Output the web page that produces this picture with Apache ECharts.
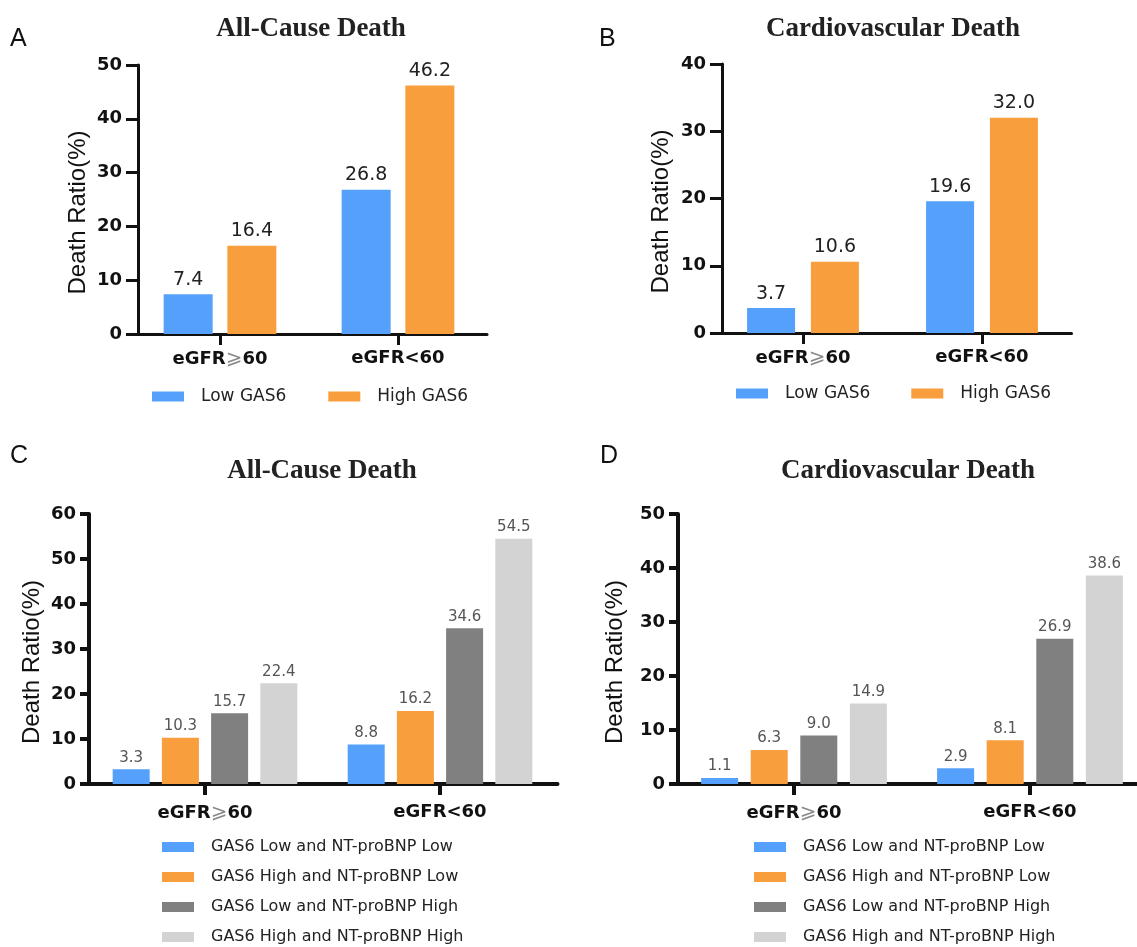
<!DOCTYPE html>
<html>
<head>
<meta charset="utf-8">
<script src="https://cdn.jsdelivr.net/npm/echarts@6/dist/echarts.min.js"></script>
<style>
  html, body { margin: 0; padding: 0; background: #fff; }
  #chart { width: 1137px; height: 947px; }
</style>
</head>
<body>
<div id="chart"></div>
<script>
// categories and legend names
var categories = ['eGFR⩾60', 'eGFR<60'];
var gasNames = ['Low GAS6', 'High GAS6'];
var comboNames = [
  'GAS6 Low and NT-proBNP Low',
  'GAS6 High and NT-proBNP Low',
  'GAS6 Low and NT-proBNP High',
  'GAS6 High and NT-proBNP High'
];

// A: all-cause death by GAS6
var allCauseLowGas6 = [7.4, 26.8];
var allCauseHighGas6 = [16.4, 46.2];
// B: cardiovascular death by GAS6
var cardioLowGas6 = [3.7, 19.6];
var cardioHighGas6 = [10.6, 32.0];
// C: all-cause death by GAS6 + NT-proBNP
var allCauseLowLow = [3.3, 8.8];
var allCauseHighLow = [10.3, 16.2];
var allCauseLowHigh = [15.7, 34.6];
var allCauseHighHigh = [22.4, 54.5];
// D: cardiovascular death by GAS6 + NT-proBNP
var cardioLowLow = [1.1, 2.9];
var cardioHighLow = [6.3, 8.1];
var cardioLowHigh = [9.0, 26.9];
var cardioHighHigh = [14.9, 38.6];

// y axis maxima
var yMax = [50, 40, 60, 50];

var BLUE = '#54a0fa';
var ORANGE = '#f99e3d';
var DARK = '#808080';
var LIGHT = '#d3d3d3';

var chart = echarts.init(document.getElementById('chart'));

var grids = [
  { left: 131, top: 65, width: 356, height: 269 },
  { left: 713.5, top: 64, width: 358, height: 269 },
  { left: 87.5, top: 514, width: 470, height: 270 },
  { left: 676, top: 514, width: 472, height: 270 }
];
var yOffsets = [-7, -8.5, -1.5, -2];
var nameGaps = [48, 49, 45, 51];
var axisW = [3, 3, 4, 4];

function xAxisFor(i) {
  return {
    type: 'category',
    gridIndex: i,
    data: categories,
    axisLine: { lineStyle: { color: '#111', width: axisW[i] } },
    axisTick: { show: true, interval: 0, alignWithLabel: true, length: 11, lineStyle: { color: '#111', width: axisW[i] } },
    axisLabel: {
      interval: 0,
      color: '#111',
      fontFamily: 'DejaVu Sans',
      fontWeight: 'bold',
      fontSize: 18,
      margin: i < 2 ? 15 : 19,
      formatter: function (v) { return v.replace('⩾', '{g|⩾}'); },
      rich: { g: { color: '#888', fontWeight: 'normal', fontFamily: 'DejaVu Sans', fontSize: 20 } }
    }
  };
}

function yAxisFor(i) {
  return {
    type: 'value',
    gridIndex: i,
    min: 0,
    max: yMax[i],
    interval: 10,
    offset: yOffsets[i],
    name: 'Death Ratio(%)',
    nameLocation: 'middle',
    nameGap: nameGaps[i],
    nameTextStyle: { color: '#111', fontFamily: 'Liberation Sans', fontSize: 24, padding: [0, 26, 0, 0] },
    axisLine: { show: true, lineStyle: { color: '#111', width: axisW[i] } },
    axisTick: { show: true, length: i < 2 ? 12 : 9, lineStyle: { color: '#111', width: axisW[i] } },
    splitLine: { show: false },
    axisLabel: {
      color: '#111',
      fontFamily: 'DejaVu Sans',
      fontWeight: 'bold',
      fontSize: 18,
      margin: i < 2 ? 16 : 13
    }
  };
}

function bar(name, data, i, color, width, gap) {
  var small = i >= 2;
  return {
    type: 'bar',
    name: name,
    data: data,
    xAxisIndex: i,
    yAxisIndex: i,
    barWidth: width,
    barGap: gap,
    itemStyle: { color: color },
    label: {
      show: true,
      position: 'top',
      distance: small ? 4 : 5,
      color: small ? '#555' : '#222',
      fontFamily: 'DejaVu Sans',
      fontSize: small ? 15 : 19,
      formatter: function (p) { return p.value.toFixed(1); }
    }
  };
}

var series = [
  bar(gasNames[0], allCauseLowGas6, 0, BLUE, 49, '30%'),
  bar(gasNames[1], allCauseHighGas6, 0, ORANGE, 49, '30%'),
  bar(gasNames[0], cardioLowGas6, 1, BLUE, 48, '33%'),
  bar(gasNames[1], cardioHighGas6, 1, ORANGE, 48, '33%'),
  bar(comboNames[0], allCauseLowLow, 2, BLUE, 37, '33%'),
  bar(comboNames[1], allCauseHighLow, 2, ORANGE, 37, '33%'),
  bar(comboNames[2], allCauseLowHigh, 2, DARK, 37, '33%'),
  bar(comboNames[3], allCauseHighHigh, 2, LIGHT, 37, '33%'),
  bar(comboNames[0], cardioLowLow, 3, BLUE, 37, '34%'),
  bar(comboNames[1], cardioHighLow, 3, ORANGE, 37, '34%'),
  bar(comboNames[2], cardioLowHigh, 3, DARK, 37, '34%'),
  bar(comboNames[3], cardioHighHigh, 3, LIGHT, 37, '34%')
];

var titleStyle = { fontFamily: 'Liberation Serif', fontWeight: 'bold', fontSize: 27, color: '#222' };
var letterStyle = { fontFamily: 'Liberation Sans', fontWeight: 'normal', fontSize: 25, color: '#111' };

function legendFor(names, left, top, vertical, gap, size) {
  return {
    data: names,
    left: left,
    top: top,
    orient: vertical ? 'vertical' : 'horizontal',
    icon: 'rect',
    itemWidth: 32,
    itemHeight: 10,
    itemGap: gap,
    padding: 0,
    selectedMode: false,
    textStyle: { fontFamily: 'DejaVu Sans', fontSize: size, color: '#222', padding: [0, 0, 0, 12] }
  };
}

chart.setOption({
  animation: false,
  backgroundColor: '#fff',
  title: [
    { text: 'All-Cause Death', left: 311, top: 16, textAlign: 'center', padding: 0, textStyle: titleStyle },
    { text: 'Cardiovascular Death', left: 893, top: 16, textAlign: 'center', padding: 0, textStyle: titleStyle },
    { text: 'All-Cause Death', left: 322, top: 458, textAlign: 'center', padding: 0, textStyle: titleStyle },
    { text: 'Cardiovascular Death', left: 908, top: 458, textAlign: 'center', padding: 0, textStyle: titleStyle },
    { text: 'A', left: 10, top: 27, padding: 0, textStyle: letterStyle },
    { text: 'B', left: 599, top: 27, padding: 0, textStyle: letterStyle },
    { text: 'C', left: 10, top: 444, padding: 0, textStyle: letterStyle },
    { text: 'D', left: 600, top: 444, padding: 0, textStyle: letterStyle }
  ],
  legend: [
    legendFor(gasNames, 152, 388, false, 42, 17),
    legendFor(gasNames, 736, 385, false, 41, 17),
    legendFor(comboNames, 162, 839, true, 14, 16),
    legendFor(comboNames, 754, 839, true, 14, 16)
  ],
  grid: grids.map(function (g) { return Object.assign({ outerBoundsMode: 'none' }, g); }),
  xAxis: [0, 1, 2, 3].map(xAxisFor),
  yAxis: [0, 1, 2, 3].map(yAxisFor),
  series: series
});
</script>
</body>
</html>
